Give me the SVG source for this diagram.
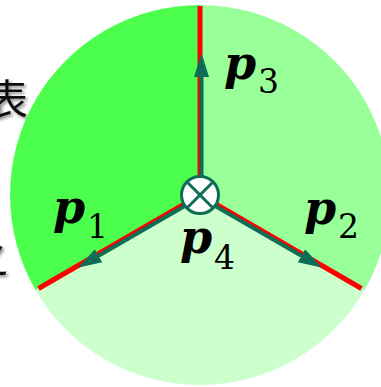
<svg xmlns="http://www.w3.org/2000/svg" width="381" height="387" viewBox="0 0 381 387">
  <style>
    .p { font-family: 'DejaVu Serif', serif; font-weight: bold; font-style: italic; font-size: 46px; fill: #000; }
    .sub { font-family: 'DejaVu Serif', serif; font-size: 33px; fill: #000; }
    .cjk { font-family: 'Noto Sans CJK SC', 'Noto Sans CJK JP', sans-serif; font-size: 42px; fill: #111; }
    .red { stroke: #FF0000; stroke-width: 5; fill: none; }
    .arrow { stroke: #0E6E55; stroke-width: 4; fill: none; }
  </style>
  <defs>
    <marker id="ah" viewBox="0 0 24 15" refX="0" refY="7.5" markerWidth="24" markerHeight="15" orient="auto" markerUnits="userSpaceOnUse">
      <path d="M0,0 L24,7.5 L0,15 Z" fill="#0E6E55"/>
    </marker>
    <filter id="shadow" x="-20%" y="-20%" width="150%" height="150%">
      <feDropShadow dx="2" dy="2" stdDeviation="1.5" flood-color="#000" flood-opacity="0.45"/>
    </filter>
  </defs>
  <rect width="381" height="387" fill="#FFFFFF"/>

  <g id="side-text" filter="url(#shadow)">
    <text class="cjk" x="-14" y="115">表</text>
    <text class="cjk" x="-34" y="273">之</text>
  </g>

  <g id="sectors">
    <path id="sector-1" d="M200,195 L200,5 A190,190 0 0 0 35.5,290 Z" fill="#4DFF4D"/>
    <path id="sector-2" d="M200,195 L200,5 A190,190 0 0 1 364.5,290 Z" fill="#99FF99"/>
    <path id="sector-4" d="M200,195 L35.5,290 A190,190 0 0 0 364.5,290 Z" fill="#CCFFCC"/>
  </g>

  <g id="connectors">
    <line class="red" x1="200" y1="195" x2="200" y2="6"/>
    <line class="red" x1="200" y1="195" x2="38.5" y2="288.5"/>
    <line class="red" x1="200" y1="195" x2="361.5" y2="288.5"/>
    <line id="arrow-p3" class="arrow" x1="201.5" y1="176" x2="201.5" y2="77" marker-end="url(#ah)"/>
    <line id="arrow-p1" class="arrow" x1="184.3" y1="206.3" x2="98.6" y2="255.8" marker-end="url(#ah)"/>
    <line id="arrow-p2" class="arrow" x1="215.7" y1="206.3" x2="301.4" y2="255.8" marker-end="url(#ah)"/>
  </g>

  <g id="center-p4">
    <circle cx="200" cy="195" r="18.5" fill="#FFFFFF" stroke="#0E6E55" stroke-width="3"/>
    <line x1="187" y1="182" x2="213" y2="208" stroke="#0E6E55" stroke-width="3"/>
    <line x1="213" y1="182" x2="187" y2="208" stroke="#0E6E55" stroke-width="3"/>
  </g>

  <g id="labels">
    <g id="label-p3"><text class="p" x="224" y="79">p</text><text class="sub" x="258" y="93">3</text></g>
    <g id="label-p1"><text class="p" x="53" y="223">p</text><text class="sub" x="87" y="238">1</text></g>
    <g id="label-p4"><text class="p" x="180" y="253">p</text><text class="sub" x="214" y="269">4</text></g>
    <g id="label-p2"><text class="p" x="304" y="224">p</text><text class="sub" x="338" y="238">2</text></g>
  </g>
</svg>
